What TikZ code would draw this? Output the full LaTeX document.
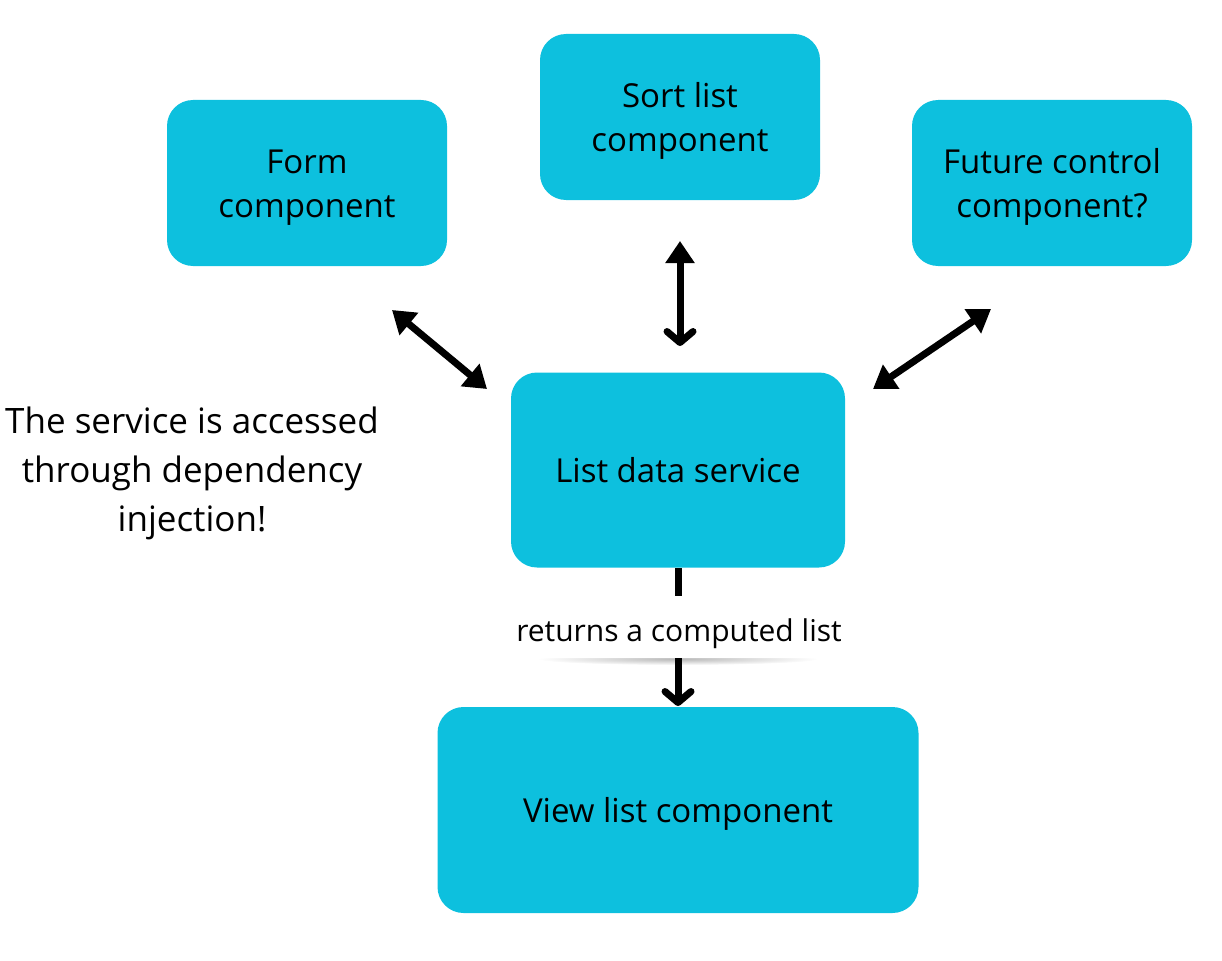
\documentclass[tikz,border=0pt]{standalone}
\usepackage{fontspec}
\setmainfont{Open Sans}
\usetikzlibrary{arrows.meta}
\definecolor{boxcyan}{HTML}{0DC0DE}
\newcommand{\topgap}[1]{\rule{0pt}{#1}}
\tikzset{
  box/.style={fill=boxcyan, rounded corners=26pt, inner sep=0pt, align=center,
    font=\fontsize{33}{44}\selectfont},
  conn/.style={line width=7pt},
}
\begin{document}
\begin{tikzpicture}[x=1pt,y=-1pt]
\useasboundingbox (0,0) rectangle (1222,960);
\node[box, minimum width=280pt, minimum height=166pt] (form) at (307,183) {\topgap{33pt}Form\\component};
\node[box, minimum width=280pt, minimum height=166pt] (sort) at (680,117) {\topgap{33pt}Sort list\\component};
\node[box, minimum width=280pt, minimum height=166pt] (future) at (1052,183) {\topgap{33pt}Future control\\component?};
\node[box, minimum width=334pt, minimum height=195pt] (svc) at (678,470) {List data service};
\node[box, minimum width=481pt, minimum height=206pt] (view) at (678,810) {\topgap{33pt}View list component};
\node[align=center, font=\fontsize{35}{49}\selectfont] (note) at (192,473) {The service is accessed\\through dependency\\injection!};
% arrow endpoints
\coordinate (fa) at (392,310); \coordinate (fb) at (487,389);
\coordinate (sa) at (680,241); \coordinate (sb) at (680,346);
\coordinate (ua) at (991,309); \coordinate (ub) at (873,389);
\coordinate (da) at (678,568); \coordinate (db) at (678,706);
\draw[conn, {Triangle[length=22pt,width=28pt]}-{Triangle[length=22pt,width=28pt]}] (fa) -- (fb);
\draw[conn, {Triangle[length=22pt,width=28pt]}-{Triangle[length=22pt,width=28pt]}] (ua) -- (ub);
\draw[conn, {Triangle[length=22pt,width=28pt]}-{Straight Barb[length=11pt,width=26pt,line cap=round,line join=round]}] (sa) -- (sb);
% shadow under label
\shade[inner color=gray!55, outer color=white] (678,659) ellipse (140pt and 6pt);
\draw[conn, -{Straight Barb[length=11pt,width=26pt,line cap=round,line join=round]}] (da) -- (db);
\node[fill=white, inner xsep=6pt, minimum height=62pt, font=\fontsize{30}{36}\selectfont] (lbl) at (679,627) {\topgap{36pt}returns a computed list};
\end{tikzpicture}
\end{document}
